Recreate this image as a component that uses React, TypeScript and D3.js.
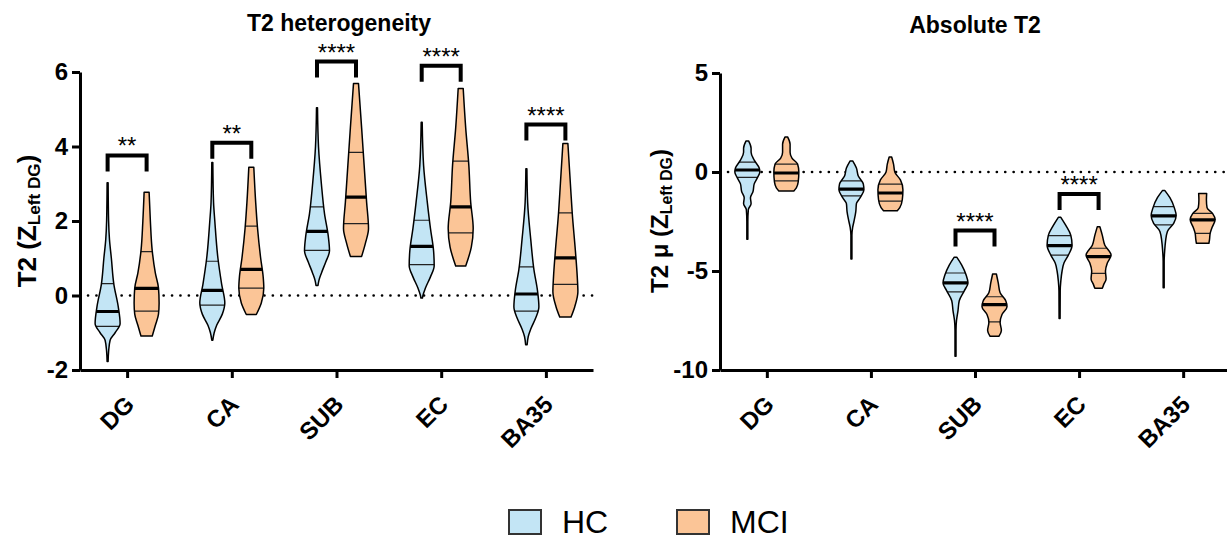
import React, { useEffect, useRef } from "react";
import * as d3 from "d3";

const categories = ["DG", "CA", "SUB", "EC", "BA35"];
const groups = ["HC", "MCI"];
const groupColors = ["#c3e5f5", "#fbc597"];

// T2 heterogeneity — quartiles [q1, median, q3] per region
const hetQuartilesHC = [[-0.83, -0.43, 0.32], [-0.26, 0.14, 0.92], [1.21, 1.72, 2.38], [0.83, 1.32, 2.02], [-0.42, 0.04, 0.77]];
const hetQuartilesMCI = [[-0.42, 0.19, 1.18], [0.2, 0.7, 1.86], [1.93, 2.64, 3.84], [1.68, 2.38, 3.61], [0.3, 1.01, 2.22]];

// violin outlines: [value, relative density], from max down to min
const hetShapeHC = [
  [[3.03, 0.04], [2.0, 0.08], [1.5, 0.15], [1.0, 0.3], [0.3, 0.5], [-0.3, 0.85], [-0.75, 1.0], [-1.0, 0.6], [-1.2, 0.2], [-1.5, 0.08], [-1.77, 0.04]],
  [[3.57, 0.04], [2.5, 0.1], [2.0, 0.2], [1.0, 0.45], [0.3, 0.75], [-0.2, 1.0], [-0.5, 0.8], [-0.8, 0.35], [-1.0, 0.15], [-1.2, 0.04]],
  [[5.04, 0.04], [4.0, 0.12], [3.0, 0.35], [2.2, 0.6], [1.6, 0.9], [1.2, 1.0], [0.9, 0.7], [0.6, 0.35], [0.4, 0.15], [0.27, 0.08]],
  [[4.65, 0.04], [3.5, 0.15], [2.5, 0.45], [1.8, 0.7], [1.2, 0.95], [0.8, 1.0], [0.5, 0.7], [0.2, 0.3], [0.0, 0.1], [-0.07, 0.06]],
  [[3.4, 0.04], [2.5, 0.1], [1.5, 0.35], [0.7, 0.6], [0.1, 0.9], [-0.3, 1.0], [-0.6, 0.75], [-0.9, 0.35], [-1.1, 0.15], [-1.32, 0.06]],
];
const hetShapeMCI = [
  [[2.77, 0.2], [2.0, 0.3], [1.2, 0.45], [0.6, 0.7], [0.2, 0.95], [-0.2, 1.0], [-0.5, 0.95], [-0.8, 0.7], [-1.09, 0.45]],
  [[3.44, 0.2], [2.5, 0.35], [1.8, 0.5], [1.0, 0.75], [0.5, 0.95], [0.2, 1.0], [-0.2, 0.8], [-0.51, 0.4]],
  [[5.69, 0.2], [4.5, 0.45], [3.5, 0.65], [2.5, 0.85], [1.8, 1.0], [1.4, 0.75], [1.05, 0.45]],
  [[5.56, 0.2], [4.5, 0.4], [3.5, 0.65], [2.5, 0.8], [1.8, 1.0], [1.3, 0.85], [0.79, 0.4]],
  [[4.08, 0.2], [3.0, 0.4], [2.2, 0.55], [1.2, 0.8], [0.5, 0.95], [0.1, 1.0], [-0.3, 0.75], [-0.58, 0.45]],
];
const hetBracket = [3.76, 4.1, 6.28, 6.17, 4.59];
const hetStars = ["**", "**", "****", "****", "****"];
const hetTicks = [6, 4, 2, 0, -2];

// Absolute T2
const absQuartilesHC = [[-0.27, 0.1, 0.5], [-1.21, -0.86, -0.45], [-6.05, -5.6, -5.1], [-4.2, -3.72, -3.21], [-2.67, -2.22, -1.75]];
const absQuartilesMCI = [[-0.45, -0.05, 0.4], [-1.47, -1.06, -0.61], [-7.57, -6.7, -6.3], [-5.12, -4.27, -3.85], [-3.1, -2.42, -2.09]];
const absShapeHC = [
  [[1.57, 0.1], [1.2, 0.3], [1.0, 0.3], [0.6, 0.55], [0.2, 0.95], [0, 1.0], [-0.3, 0.8], [-0.6, 0.55], [-1.0, 0.45], [-1.3, 0.25], [-1.6, 0.3], [-1.9, 0.08], [-2.5, 0.04], [-3.4, 0.04]],
  [[0.56, 0.1], [0.2, 0.4], [-0.2, 0.55], [-0.6, 0.95], [-0.9, 1.0], [-1.3, 0.7], [-1.6, 0.4], [-2.0, 0.35], [-2.5, 0.2], [-2.8, 0.1], [-3.2, 0.04], [-4.4, 0.04]],
  [[-4.3, 0.1], [-4.7, 0.5], [-5.2, 0.85], [-5.6, 1.0], [-6.0, 0.7], [-6.5, 0.3], [-7.0, 0.2], [-7.5, 0.08], [-8.0, 0.04], [-9.3, 0.04]],
  [[-2.29, 0.1], [-2.7, 0.5], [-3.2, 0.9], [-3.7, 1.0], [-4.2, 0.7], [-4.6, 0.35], [-5.0, 0.2], [-5.5, 0.1], [-6.0, 0.05], [-7.4, 0.04]],
  [[-0.94, 0.1], [-1.3, 0.5], [-1.8, 0.85], [-2.2, 1.0], [-2.6, 0.8], [-3.0, 0.3], [-3.5, 0.15], [-4.0, 0.08], [-4.5, 0.04], [-5.84, 0.04]],
];
const absShapeMCI = [
  [[1.77, 0.1], [1.4, 0.3], [1.0, 0.3], [0.7, 0.45], [0.4, 0.9], [0, 1.0], [-0.5, 0.95], [-0.8, 0.8], [-0.96, 0.6]],
  [[0.76, 0.1], [0.4, 0.25], [0, 0.35], [-0.4, 0.8], [-0.9, 1.0], [-1.4, 0.95], [-1.8, 0.75], [-1.96, 0.55]],
  [[-5.15, 0.15], [-5.6, 0.3], [-6.1, 0.45], [-6.5, 0.9], [-6.8, 1.0], [-7.2, 0.6], [-7.6, 0.45], [-8.0, 0.55], [-8.3, 0.35]],
  [[-2.76, 0.1], [-3.2, 0.3], [-3.7, 0.5], [-4.2, 1.0], [-4.6, 0.7], [-5.0, 0.55], [-5.4, 0.6], [-5.7, 0.4], [-5.87, 0.3]],
  [[-1.08, 0.32], [-1.4, 0.3], [-1.8, 0.35], [-2.1, 0.8], [-2.4, 1.0], [-2.8, 0.75], [-3.1, 0.6], [-3.4, 0.55], [-3.6, 0.5]],
];
const absBracket = [null, null, -2.96, -1.11, null];
const absStars = ["", "", "****", "****", ""];
const absTicks = [5, 0, -5, -10];

const FONT = "'Liberation Sans', Arial, sans-serif";

const panels = [
  {
    id: "het", title: "T2 heterogeneity", titleX: 339, titleY: 31,
    xRange: [80, 593], yRange: [370, 72], domain: [-2, 6], ticks: hetTicks,
    shapes: [hetShapeHC, hetShapeMCI], quartiles: [hetQuartilesHC, hetQuartilesMCI],
    bracket: hetBracket, stars: hetStars,
    label: "T2 (Z", labelX: 36, labelSize: 26,
  },
  {
    id: "abs", title: "Absolute T2", titleX: 975, titleY: 33,
    xRange: [720, 1230], yRange: [370, 73], domain: [-10, 5], ticks: absTicks,
    shapes: [absShapeHC, absShapeMCI], quartiles: [absQuartilesHC, absQuartilesMCI],
    bracket: absBracket, stars: absStars,
    label: "T2 \u03bc (Z", labelX: 668, labelSize: 24,
  },
];

const Panel = ({ p }) => {
  const gx = useRef(null);
  const gy = useRef(null);

  const x = d3.scalePoint().domain(categories).range(p.xRange).padding(0.45);
  const y = d3.scaleLinear().domain(p.domain).range(p.yRange);
  const w = d3.scaleLinear().domain([0, 1]).range([0, 12.5]);
  const offset = 19.5;

  useEffect(() => {
    const xAxis = d3.axisBottom(x).tickSize(8).tickSizeOuter(0);
    const yAxis = d3.axisLeft(y).tickValues(p.ticks).tickFormat(d => String(d))
      .tickSize(8).tickSizeOuter(0).tickPadding(4);

    const ax = d3.select(gx.current).call(xAxis);
    ax.select(".domain").attr("stroke-width", 3);
    ax.selectAll(".tick line").attr("stroke-width", 3);
    ax.selectAll(".tick text")
      .attr("x", 0).attr("y", 0).attr("dy", 0)
      .attr("transform", "translate(8,36) rotate(-45)")
      .attr("text-anchor", "end")
      .style("font", `bold 24px ${FONT}`)
      .attr("fill", "#000");

    const ay = d3.select(gy.current).call(yAxis);
    ay.select(".domain").attr("stroke-width", 3);
    ay.selectAll(".tick line").attr("stroke-width", 3);
    ay.selectAll(".tick text")
      .style("font", `bold 24px ${FONT}`)
      .attr("fill", "#000");
  }, []);

  const area = d3.area()
    .y(d => y(d[0]))
    .curve(d3.curveMonotoneY);

  return (
    <g>
      <text x={p.titleX} y={p.titleY} textAnchor="middle" style={{ font: `bold 23px ${FONT}` }}>{p.title}</text>
      <text transform={`translate(${p.labelX},221) rotate(-90)`} textAnchor="middle" style={{ font: `bold ${p.labelSize}px ${FONT}` }}>
        {p.label}
        <tspan dy={4} style={{ fontSize: p.labelSize * 0.66 }}>Left DG</tspan>
        <tspan dy={-4}>)</tspan>
      </text>

      <line x1={p.xRange[0] + 8} x2={p.xRange[1]} y1={y(0)} y2={y(0)} stroke="#000" strokeWidth={2.6}
        strokeDasharray="0.1 8.3" strokeLinecap="round" />

      {categories.map((c, i) => groups.map((g, gi) => {
        const cx = x(c) + (gi === 0 ? -offset : offset);
        const shape = p.shapes[gi][i];
        const q = p.quartiles[gi][i];
        area.x0(d => cx - w(d[1])).x1(d => cx + w(d[1]));
        const d = area(shape);
        const clipId = `clip-${p.id}-${i}-${gi}`;
        return (
          <g key={clipId}>
            <clipPath id={clipId}><path d={d} /></clipPath>
            <path d={d} fill={groupColors[gi]} />
            <g clipPath={`url(#${clipId})`}>
              <line x1={cx - 15} x2={cx + 15} y1={y(q[0])} y2={y(q[0])} stroke="#222" strokeWidth={1.2} />
              <line x1={cx - 15} x2={cx + 15} y1={y(q[2])} y2={y(q[2])} stroke="#222" strokeWidth={1.2} />
              <line x1={cx - 15} x2={cx + 15} y1={y(q[1])} y2={y(q[1])} stroke="#000" strokeWidth={3.2} />
            </g>
            <path d={d} fill="none" stroke="#000" strokeWidth={1.5} strokeLinejoin="round" />
          </g>
        );
      }))}

      {categories.map((c, i) => {
        if (p.bracket[i] == null) return null;
        const xa = x(c) - offset, xb = x(c) + offset, yt = y(p.bracket[i]);
        return (
          <g key={`br-${i}`}>
            <path d={`M${xa},${yt + 16}V${yt}H${xb}V${yt + 16}`} fill="none" stroke="#000" strokeWidth={4} />
            <text x={(xa + xb) / 2} y={yt - 1} textAnchor="middle" style={{ font: `24px ${FONT}` }}>{p.stars[i]}</text>
          </g>
        );
      })}

      <g ref={gx} transform={`translate(0,${p.yRange[0]})`} />
      <g ref={gy} transform={`translate(${p.xRange[0]},0)`} />
    </g>
  );
};

const legendX = [509, 677];

export default function App() {
  return (
    <svg width={1227} height={540} style={{ position: "absolute", left: 0, top: 0, background: "#fff" }}>
      {panels.map(p => <Panel key={p.id} p={p} />)}
      {groups.map((g, i) => (
        <g key={g}>
          <rect x={legendX[i]} y={510} width={32} height={24} fill={groupColors[i]} stroke="#333" strokeWidth={2} />
          <text x={legendX[i] + 53} y={533} style={{ font: `32px ${FONT}` }}>{g}</text>
        </g>
      ))}
    </svg>
  );
}
